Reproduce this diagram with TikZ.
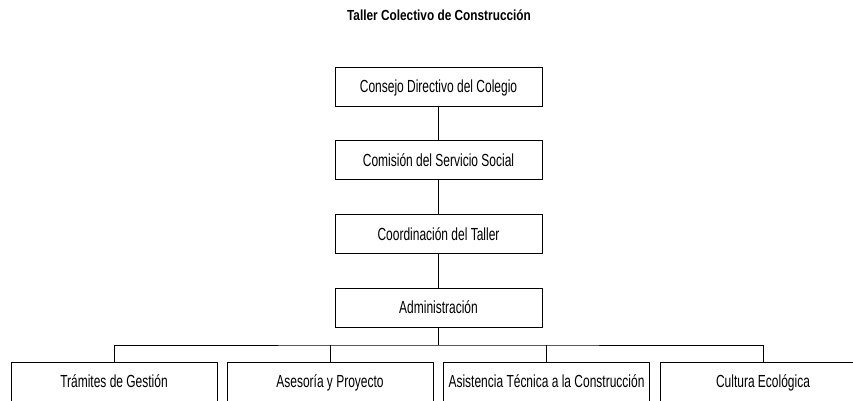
\documentclass[tikz,border=0pt]{standalone}
\usepackage{fontspec}
\setmainfont{Liberation Sans}
\newfontfamily\bodyfnt{Liberation Sans}[FakeStretch=0.685]
\newfontfamily\titlefnt{Liberation Sans}[FakeStretch=0.81]
\begin{document}
\begin{tikzpicture}[x=1pt,y=-1pt,
  box/.style={draw=black, line width=0.8pt, minimum width=207pt, minimum height=39pt, inner sep=0pt, text height=12.5pt, text depth=0pt, align=center, font=\bodyfnt\fontsize{17.5}{20}\selectfont},
  lowbox/.style={box, minimum width=206pt},
  conn/.style={draw=black, line width=0.8pt}
]
\useasboundingbox (0,0) rectangle (853,400);
\clip (0,0) rectangle (853,400);
\node[font=\titlefnt\fontsize{14.6}{17}\selectfont\bfseries, text height=10.4pt, text depth=0pt, inner sep=0pt] (title) at (439,15.3) {Taller Colectivo de Construcción};
\node[box] (consejo) at (438.5,86.5) {Consejo Directivo del Colegio};
\node[box] (comision) at (438.5,160) {Comisión del Servicio Social};
\node[box] (coord) at (438.5,234) {Coordinación del Taller};
\node[box] (admin) at (438.5,307.5) {Administración};
\node[lowbox] (tram) at (114,381.5) {Trámites de Gestión};
\node[lowbox] (ases) at (330,381.5) {Asesoría y Proyecto};
\node[lowbox] (asis) at (546.5,381.5) {Asistencia Técnica a la Construcción};
\node[lowbox] (cult) at (763,381.5) {Cultura Ecológica};
\coordinate (bus) at (438.5,345);
\draw[conn] (consejo) -- (comision);
\draw[conn] (comision) -- (coord);
\draw[conn] (coord) -- (admin);
\draw[conn] (admin.south) -- (bus);
\draw[conn] (tram.north) |- (bus) -| (cult.north);
\draw[conn] (ases.north) -- (ases.north |- bus);
\draw[conn] (asis.north) -- (asis.north |- bus);
\end{tikzpicture}
\end{document}
